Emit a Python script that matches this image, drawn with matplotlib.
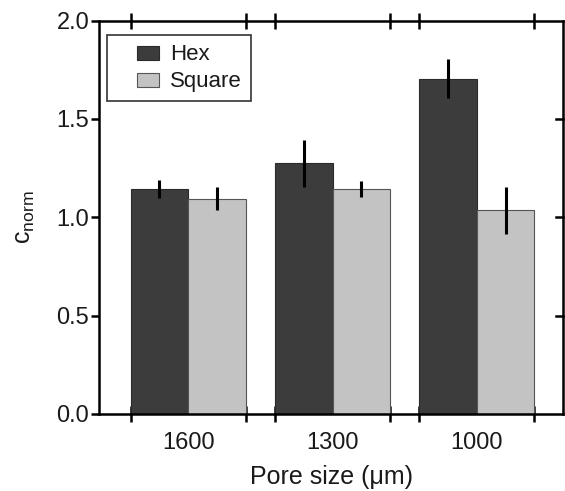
import matplotlib
matplotlib.use("Agg")
import matplotlib.pyplot as plt
import matplotlib.patches as mpatches
from matplotlib.container import BarContainer
from matplotlib.legend_handler import HandlerPatch
import numpy as np

plt.rcParams['font.family'] = ['Liberation Sans', 'DejaVu Sans']
plt.rcParams['mathtext.fontset'] = 'custom'
plt.rcParams['mathtext.rm'] = 'Liberation Sans'
plt.rcParams['mathtext.it'] = 'Liberation Sans'

pore_sizes = ["1600", "1300", "1000"]
hex_values = [1.145, 1.275, 1.705]
hex_errors = [0.045, 0.12, 0.10]
square_values = [1.095, 1.145, 1.035]
square_errors = [0.06, 0.04, 0.12]

x = np.arange(len(pore_sizes))
width = 0.4

fig = plt.figure(figsize=(5.65, 4.91), dpi=100)
ax = fig.add_axes([0.175, 0.157, 0.822, 0.801])

err_kw = dict(ecolor='black', elinewidth=2.2, capsize=0)
ax.bar(x - width / 2, hex_values, width, yerr=hex_errors, color='#3c3c3c',
       edgecolor='#2a2a2a', linewidth=0.8, label='Hex', error_kw=err_kw, zorder=2)
ax.bar(x + width / 2, square_values, width, yerr=square_errors, color='#c3c3c3',
       edgecolor='#555555', linewidth=0.8, label='Square', error_kw=err_kw, zorder=2)

ax.set_xlim(-0.62, 2.6)
ax.set_ylim(0, 2.0)

# category labels at group centres, tick marks at group edges
ax.set_xticks(x)
ax.set_xticklabels(pore_sizes)
ax.tick_params(axis='x', which='major', length=0, pad=13, labelsize=17,
               labelcolor='#1a1a1a')
edges = np.concatenate([[xi - width, xi + width] for xi in x])
ax.set_xticks(edges, minor=True)
ax.tick_params(axis='x', which='minor', direction='inout', length=12, width=1.8,
               top=True, bottom=True)

ax.set_yticks([0, 0.5, 1.0, 1.5, 2.0])
ax.set_yticklabels(['0.0', '0.5', '1.0', '1.5', '2.0'])
ax.tick_params(axis='y', which='major', direction='out', length=6, width=1.8,
               labelsize=17, pad=1, right=False, labelcolor='#1a1a1a')
ax.yaxis.set_minor_locator(matplotlib.ticker.NullLocator())

# inward ticks on the right spine
for yv in [0.5, 1.0, 1.5]:
    ax.plot([1.0, 0.985], [yv, yv], transform=ax.get_yaxis_transform(),
            color='black', lw=1.8, clip_on=False, zorder=5)

for s in ax.spines.values():
    s.set_linewidth(1.8)

ax.set_xlabel('Pore size (\u03bcm)', fontsize=18, labelpad=8, color='#1a1a1a')
ax.set_ylabel(r'$\mathregular{c_{norm}}$', fontsize=18, labelpad=14, color='#1a1a1a')


def swatch(legend, orig_handle, xdescent, ydescent, width, height, fontsize):
    # small rectangle sitting at the right end of the handle box
    w = 22.0 * 72 / fig.dpi
    h = 14.0 * 72 / fig.dpi
    return mpatches.Rectangle((width - w - xdescent, (height - h) / 2 - ydescent), w, h)


def from_first_bar(legend_handle, orig_handle):
    legend_handle.update_from(orig_handle[0])


leg = ax.legend(loc='upper left', bbox_to_anchor=(0.017, 0.964), fontsize=16,
                frameon=True, fancybox=False, edgecolor='black',
                handlelength=1.95, handleheight=0.85, handletextpad=0.5,
                borderpad=0.4, labelspacing=0.25, borderaxespad=0,
                handler_map={BarContainer: HandlerPatch(patch_func=swatch,
                                                        update_func=from_first_bar)})
leg.get_frame().set_linewidth(1.2)
for t in leg.get_texts():
    t.set_color('#1a1a1a')

fig.savefig('out.png', dpi=100)
